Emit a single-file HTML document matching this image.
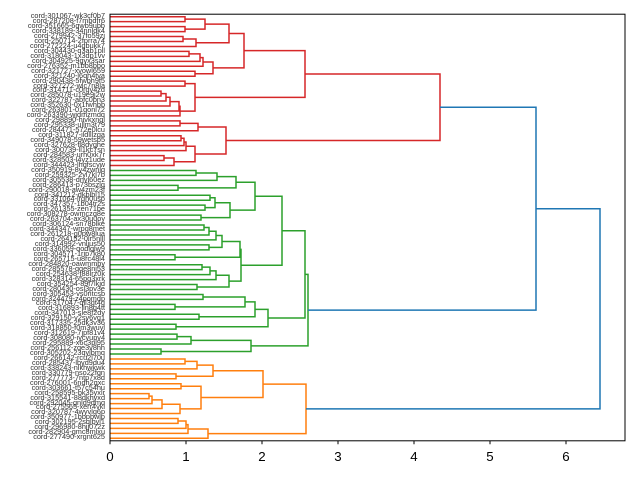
<!DOCTYPE html>
<html><head><meta charset="utf-8"><style>
html,body{margin:0;padding:0;background:#fff;}
body{width:640px;height:480px;position:relative;overflow:hidden;font-family:"Liberation Sans","DejaVu Sans",sans-serif;}
#labs{position:absolute;left:0;top:14.2px;width:105px;text-align:right;font-size:7.3px;color:#333;}
#labs div{height:4.96px;line-height:4.96px;white-space:nowrap;}
.tl{position:absolute;top:449px;font-size:13.3px;width:30px;margin-left:-15px;text-align:center;color:#000;}
svg{position:absolute;left:0;top:0;}
</style></head><body>
<div id="labs">
<div>cord-301067-wk3cf0b7</div><div>cord-287208-f7mbdfr6</div><div>cord-351665-6qwb9ubb</div><div>cord-338189-34nnldk4</div><div>cord-279942-37fo59zj</div><div>cord-250714-2fprra74</div><div>cord-272224-u4gbukk7</div><div>cord-304430-q3ab1pll</div><div>cord-318043-1x3dp1vv</div><div>cord-304925-9gyx3sar</div><div>cord-276352-m1bb8bbo</div><div>cord-321727-xvowl659</div><div>cord-321240-l6qh4tva</div><div>cord-290438-5fwbh9f5</div><div>cord-327272-wlc7n8la</div><div>cord-314711-c0rgv4zd</div><div>cord-285078-u19e9j2w</div><div>cord-322787-abfc0bn3</div><div>cord-352630-0x1fwhbb</div><div>cord-263801-01gonl72</div><div>cord-263390-wjdmzmdq</div><div>cord-298890-hivkxngl</div><div>cord-295338-ullm3t79</div><div>cord-284471-572e0lcu</div><div>cord-311827-ildlllzga</div><div>cord-349078-59wetsb5</div><div>cord-327628-fl8dyghe</div><div>cord-300739-ll1kc7sn</div><div>cord-284583-urh0xk7r</div><div>cord-328503-l4yz1ude</div><div>cord-344423-lhqfscyw</div>
<div>cord-350919-8y4zwnlq</div><div>cord-259325-2yl7kl7b</div><div>cord-305538-dnyl60ez</div><div>cord-286413-p73bszlg</div><div>cord-290018-aw4zm23f</div><div>cord-341212-dkblbl15</div><div>cord-331064-lrgh0usp</div><div>cord-347357-1b04tr2s</div><div>cord-261355-zen71be</div><div>cord-308278-owmczq8e</div><div>cord-263704-ax30u0oy</div><div>cord-306124-sn78blke</div><div>cord-344347-wrpg8met</div><div>cord-261218-g0pw8lua</div><div>cord-264152-0lr5nlll</div><div>cord-314992-vnljus50</div><div>cord-336059-qodlqlw9</div><div>cord-304571-1rip7k80</div><div>cord-265715-u8rc48l4</div><div>cord-284820-oawmmby</div><div>cord-285578-qqe8nj53</div><div>cord-254638-f88lrz0k</div><div>cord-328314-65pg3xrk</div><div>cord-354254-89l7lkjd</div><div>cord-280430-osl3pv3e</div><div>cord-305453-vs0ntcsb</div><div>cord-324479-z4pomdp</div><div>cord-317047-qll3gt4g</div><div>cord-316893-lln8g4tt</div><div>cord-347013-sle8f2dy</div><div>cord-329150-v2sy6vg1</div><div>cord-317335-25dk3v36</div><div>cord-318850-f0m3wuyl</div><div>cord-312619-7jpf81v4</div><div>cord-308080-iycyupv4</div><div>cord-295889-x6c3pl95</div><div>cord-256112-zqe3v8hh</div><div>cord-305202-23qylbmq</div>
<div>cord-266142-rcu2l70u</div><div>cord-285437-lbyd9du4</div><div>cord-338243-nlkhwkwk</div><div>cord-330779-nso22fqn</div><div>cord-277773-7ntp7x8d</div><div>cord-276001-6ndh2qxc</div><div>cord-303661-t57c54hu</div><div>cord-258595-bk35yxlr</div><div>cord-315541-88dkhyxd</div><div>cord-292045-gnld9dmq</div><div>cord-275565-xerr4vkl</div><div>cord-320787-4wyvlg6p</div><div>cord-350977-1bbpbwlp</div><div>cord-302195-2sqlbyl1</div><div>cord-296980-8hjj072z</div><div>cord-282904-gmc8mlxu</div><div>cord-277490-xrgnt625</div>
</div>
<svg id="sv" width="640" height="480" xmlns="http://www.w3.org/2000/svg">
<g id="tree" fill="none" stroke-width="1.5"></g>
<rect x="110" y="14.2" width="515" height="426.6" fill="none" stroke="#000" stroke-width="1"/>
<g stroke="#000" stroke-width="1">
<line x1="110" y1="440.8" x2="110" y2="444.3"/><line x1="186" y1="440.8" x2="186" y2="444.3"/><line x1="262" y1="440.8" x2="262" y2="444.3"/><line x1="338" y1="440.8" x2="338" y2="444.3"/><line x1="414" y1="440.8" x2="414" y2="444.3"/><line x1="490" y1="440.8" x2="490" y2="444.3"/><line x1="566" y1="440.8" x2="566" y2="444.3"/>
</g>
</svg>
<div class="tl" style="left:110px">0</div><div class="tl" style="left:186px">1</div><div class="tl" style="left:262px">2</div><div class="tl" style="left:338px">3</div><div class="tl" style="left:414px">4</div><div class="tl" style="left:490px">5</div><div class="tl" style="left:566px">6</div>
<script>
function Y(i){return 16.7+4.96*(i-1);}
var R=[[[[[[1,2,185],[3,4,185],205],[[5,6,183],7,196],229],[[[[8,9,189],10,200],11,203],[12,13,195],213],244],[[14,15,185],[[[[[16,17,161],18,166],19,170],20,179],21,180],195],305],[[[22,23,180],24,198],[[[[25,26,181],27,184],28,186],[[29,30,164],31,174],195],226],440];
var g1=[[[32,33,196],34,217],[35,36,178],236];
var g2=[[[37,38,210],[39,40,205],215],[41,42,201],230];
var G1=[g1,g2,255];
var g3=[[[[43,44,204],45,209],46,216],[47,48,209],222];
var g4=[g3,[49,50,175],240];
var g5=[[[[51,52,202],53,210],54,216],[55,56,197],229];
var g6=[g4,g5,241];
var G2=[G1,g6,282];
var g7=[[[57,58,203],[59,60,175],245],[61,62,199],255];
var g8=[g7,[63,64,176],268];
var G=[[G2,g8,305],[[[65,66,177],67,191],[68,69,161],251],308];
var O=[[[[[70,71,185],72,197],[73,74,176],213],[[75,76,181],[[[[77,78,149],79,152],80,162],81,180],201],263],[[[[82,83,178],84,186],85,188],86,208],306];
var out='';
function draw(n,c){
 if(typeof n==='number')return [110,Y(n)];
 var a=draw(n[0],c),b=draw(n[1],c),x=n[2];
 out+='<path stroke="'+c+'" d="M'+a[0]+' '+a[1]+'H'+x+'V'+b[1]+'H'+b[0]+'"/>';
 return [x,(a[1]+b[1])/2];
}
var r=draw(R,'#d62728'),g=draw(G,'#2ca02c'),o=draw(O,'#ff7f0e');
var B='#1f77b4';
var m1=(r[1]+g[1])/2;
out+='<path stroke="'+B+'" d="M'+r[0]+' '+r[1]+'H536V'+g[1]+'H'+g[0]+'"/>';
out+='<path stroke="'+B+'" d="M536 '+m1+'H600V'+o[1]+'H'+o[0]+'"/>';
document.getElementById('tree').innerHTML=out;
</script>
</body></html>
